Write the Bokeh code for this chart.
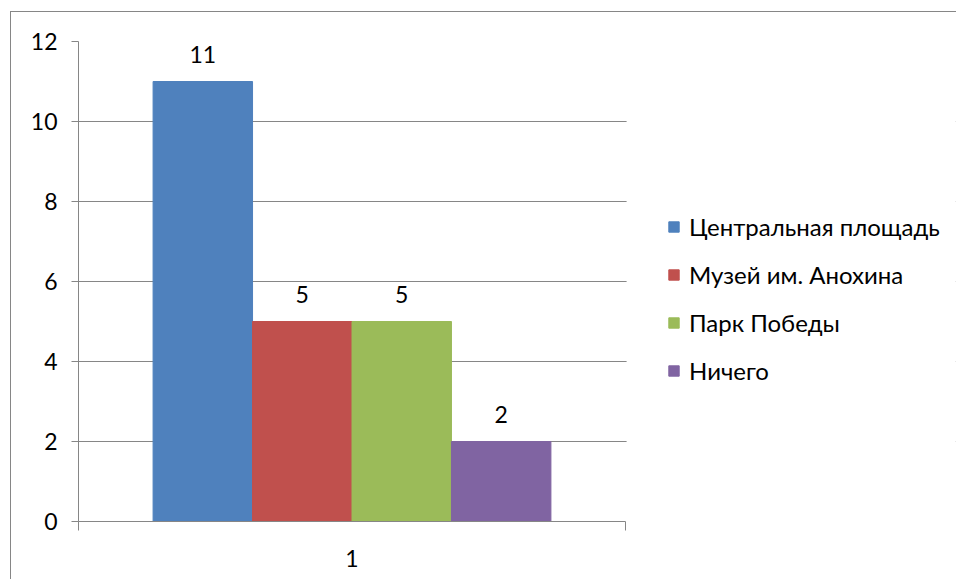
from bokeh.plotting import figure
from bokeh.models import (ColumnDataSource, FixedTicker, LabelSet, Legend, LegendItem,
                          Range1d, BoxAnnotation)
from bokeh.core.properties import value
from bokeh.embed import file_html
from bokeh.resources import INLINE

series = ["Центральная площадь", "Музей им. Анохина", "Парк Победы", "Ничего"]
values = [11, 5, 5, 2]
colors = ["#4F81BD", "#C0504D", "#9BBB59", "#8064A2"]
category = "1"
y_ticks = [0, 2, 4, 6, 8, 10, 12]

FONT = "Lato"
NUM_SIZE = "23px"
n = len(series)
gap = 1.5
w = 1.0 / (n + gap)
xs = [0.5 + (i - (n - 1) / 2) * w for i in range(n)]

src = ColumnDataSource(dict(x=xs, top=values, color=colors, name=series,
                            label=[str(v) for v in values]))

W, H = 946, 568
LEFT, TOP, BOTTOM, RIGHT = 67, 29, 59, 2
plot_w = 547
frame_w = W - LEFT - RIGHT
p = figure(width=W, height=H, output_backend="svg", toolbar_location=None,
           x_range=Range1d(0, frame_w / plot_w), y_range=Range1d(0, 12),
           min_border_left=LEFT, min_border_right=RIGHT, min_border_top=TOP,
           min_border_bottom=BOTTOM)
p.background_fill_color = "#FFFFFF"
p.border_fill_color = "#FFFFFF"
p.outline_line_color = None
p.margin = (11, 0, 0, 10)
p.styles = {"border-left": "1px solid #868686", "border-top": "1px solid #868686"}

r = p.vbar(x="x", top="top", width=w, bottom=0, color="color", source=src)

labels = LabelSet(x="x", y="top", text="label", source=src, text_align="center",
                  text_baseline="middle", y_offset=27, text_font=value(FONT),
                  text_font_size=NUM_SIZE, text_color="#000000")
p.add_layout(labels)

# axes
p.yaxis.ticker = FixedTicker(ticks=y_ticks)
p.yaxis.axis_line_color = "#868686"
p.yaxis.major_tick_line_color = "#868686"
p.yaxis.major_tick_out = 7
p.yaxis.major_tick_in = 0
p.yaxis.minor_tick_line_color = None
p.yaxis.major_label_text_font = FONT
p.yaxis.major_label_text_font_size = NUM_SIZE
p.yaxis.major_label_text_color = "#000000"
p.yaxis.major_label_standoff = 14

p.xaxis.ticker = FixedTicker(ticks=[0.5], minor_ticks=[0, 1])
p.xaxis.bounds = (0, 1)
p.xaxis.major_label_overrides = {0.5: category}
p.xaxis.axis_line_color = "#868686"
p.xaxis.major_tick_line_color = None
p.xaxis.major_tick_out = 0
p.xaxis.major_tick_in = 0
p.xaxis.minor_tick_line_color = "#868686"
p.xaxis.minor_tick_out = 9
p.xaxis.minor_tick_in = 0
p.xaxis.major_label_text_font = FONT
p.xaxis.major_label_text_font_size = NUM_SIZE
p.xaxis.major_label_text_color = "#000000"
p.xaxis.major_label_standoff = 19

p.xgrid.grid_line_color = None
p.ygrid.ticker = FixedTicker(ticks=y_ticks)
p.ygrid.grid_line_color = "#868686"

# blank out gridlines right of the plot area (legend area)
cover = BoxAnnotation(left=1.002, fill_color="#FFFFFF", fill_alpha=1, line_color=None)
p.add_layout(cover)

# legend
items = [LegendItem(label=s, renderers=[r], index=i) for i, s in enumerate(series)]
legend = Legend(items=items, location=(589, 136), orientation="vertical",
                border_line_color=None, background_fill_alpha=0, padding=0, margin=0,
                glyph_width=13, glyph_height=13, label_height=20, spacing=19,
                label_standoff=9, label_text_font=FONT, label_text_font_size="24px",
                label_text_color="#000000")
p.add_layout(legend, "center")

open("out.html", "w").write(file_html(p, INLINE))
